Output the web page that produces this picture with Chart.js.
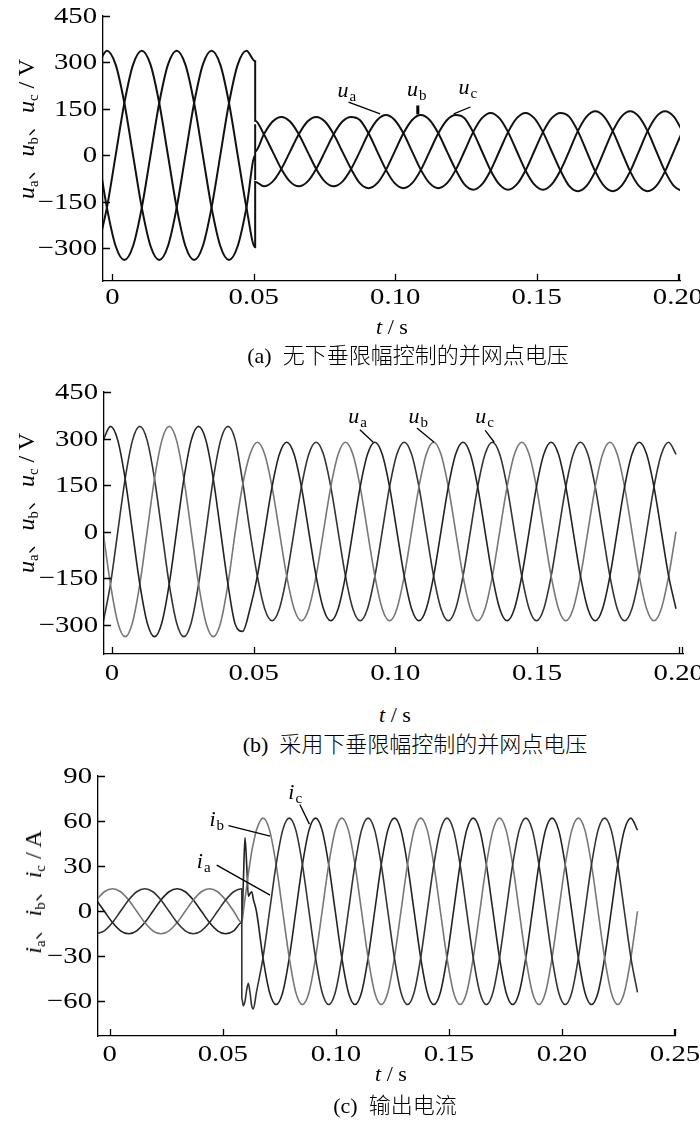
<!DOCTYPE html>
<html>
<head>
<meta charset="utf-8">
<script src="https://cdn.jsdelivr.net/npm/chart.js@4.4.1/dist/chart.umd.min.js"></script>
<style>
  html, body { margin: 0; padding: 0; background: #fff; }
  #page { position: relative; width: 700px; height: 1129px; overflow: hidden;
          font-family: "Liberation Serif", "Times New Roman", serif; color: #000; }
  canvas { position: absolute; left: 0; }
  .txt { position: absolute; white-space: nowrap; transform: translate(-50%, -50%);
         font-size: 22px; line-height: 1; }
  .ylab { transform: translate(-50%, -50%) rotate(-90deg); font-size: 24px; }
  .cn { font-family: "Noto Sans CJK SC", sans-serif; font-weight: 300; }
  sub { font-size: 62%; vertical-align: -0.28em; line-height: 0; }
</style>
</head>
<body>
<div id="page">
  <canvas id="chartA" width="700" height="320" style="top:0px"></canvas>
  <canvas id="chartB" width="700" height="320" style="top:376px"></canvas>
  <canvas id="chartC" width="700" height="320" style="top:760px"></canvas>

  <div class="txt ylab" style="left:25px; top:129px"><i>u</i><sub>a</sub><span class="cn">、</span><i>u</i><sub>b</sub><span class="cn">、</span><i>u</i><sub>c</sub> / V</div>
  <div class="txt" style="left:392px; top:327px"><i>t</i> / s</div>
  <div class="txt" style="left:408px; top:354px">(a)&nbsp; <span class="cn">无下垂限幅控制的并网点电压</span></div>

  <div class="txt ylab" style="left:25px; top:503px"><i>u</i><sub>a</sub><span class="cn">、</span><i>u</i><sub>b</sub><span class="cn">、</span><i>u</i><sub>c</sub> / V</div>
  <div class="txt" style="left:395px; top:715px"><i>t</i> / s</div>
  <div class="txt" style="left:415px; top:743px">(b)&nbsp; <span class="cn">采用下垂限幅控制的并网点电压</span></div>

  <div class="txt ylab" style="left:32px; top:892px"><i>i</i><sub>a</sub><span class="cn">、</span><i>i</i><sub>b</sub><span class="cn">、</span><i>i</i><sub>c</sub> / A</div>
  <div class="txt" style="left:391px; top:1074px"><i>t</i> / s</div>
  <div class="txt" style="left:395px; top:1104px">(c)&nbsp; <span class="cn">输出电流</span></div>
</div>

<script>
// tick values and labels
const xTicksAB = [0, 0.05, 0.10, 0.15, 0.20]
const xLabelsAB = ['0', '0.05', '0.10', '0.15', '0.20']
const xTicksC = [0, 0.05, 0.10, 0.15, 0.20, 0.25]
const xLabelsC = ['0', '0.05', '0.10', '0.15', '0.20', '0.25']
const yTicksU = [-300, -150, 0, 150, 300, 450]
const yLabelsU = ['−300', '−150', '0', '150', '300', '450']
const yTicksI = [-60, -30, 0, 30, 60, 90]
const yLabelsI = ['−60', '−30', '0', '30', '60', '90']

// (a) grid voltage, no droop limiting (s, V)
const tA = [-0.00500, -0.00192, 0.00117, 0.00425, 0.00733, 0.01042, 0.01350, 0.01658, 0.01967, 0.02275,
  0.02583, 0.02892, 0.03200, 0.03508, 0.03817, 0.04125, 0.04433, 0.04742, 0.05050, 0.05050, 0.05050, 0.05050,
  0.05358, 0.05667, 0.05975, 0.06283, 0.06592, 0.06900, 0.07208, 0.07517, 0.07825, 0.08133, 0.08442,
  0.08750, 0.09058, 0.09367, 0.09675, 0.09983, 0.10292, 0.10600, 0.10908, 0.11217, 0.11525, 0.11833, 0.12142,
  0.12450, 0.12758, 0.13067, 0.13375, 0.13683, 0.13992, 0.14300, 0.14608, 0.14917, 0.15225, 0.15533, 0.15842,
  0.16150, 0.16458, 0.16767, 0.17075, 0.17383, 0.17692, 0.18000, 0.18308, 0.18617, 0.18925, 0.19233, 0.19542,
  0.19850, 0.20158]
const uaA = [0, -169, -293, -338, -293, -169, 0, 169, 293, 338, 293, 169, 0, -169, -293, -338, -293, -169, 0,
  100, -80,
  12, 68, 109, 124, 109, 68, 12, -44, -85, -100, -85, -44,
  12, 71, 114, 130, 114, 71, 12, -47, -90, -106, -90, -47,
  13, 75, 120, 137, 120, 75, 13, -49, -94, -111, -94, -49,
  13, 78, 125, 142, 125, 78, 13, -52, -99, -116, -99, -52,
  13, 78]
const ubA = [293, 338, 293, 169, 0, -169, -293, -338, -293, -169, 0, 169, 293, 338, 293, 169, 0, -169, -297,
  -297, -85,
  -85, -100, -85, -44, 12, 68, 109, 124, 109, 68, 12, -44,
  -90, -106, -90, -47, 12, 71, 114, 130, 114, 71, 12, -47,
  -94, -111, -94, -49, 13, 75, 120, 137, 120, 75, 13, -49,
  -99, -116, -99, -52, 13, 78, 125, 142, 125, 78, 13, -52,
  -99, -116]
const ucA = [-293, -169, 0, 169, 293, 338, 293, 169, 0, -169, -293, -338, -293, -169, 0, 169, 293, 338, 304,
  112, 112,
  112, 68, 12, -44, -85, -100, -85, -44, 12, 68, 109, 124,
  114, 71, 12, -47, -90, -106, -90, -47, 12, 71, 114, 130,
  120, 75, 13, -49, -94, -111, -94, -49, 13, 75, 120, 137,
  125, 78, 13, -52, -99, -116, -99, -52, 13, 78, 125, 142,
  125, 78]

// (b) grid voltage with droop limiting (s, V)
const tB = [-0.00312, -0.00052, 0.00207, 0.00466, 0.00725, 0.00984, 0.01243, 0.01502, 0.01762, 0.02021,
  0.02280, 0.02539, 0.02798, 0.03057, 0.03317, 0.03576, 0.03835, 0.04094, 0.04353,
  0.04612, 0.04872, 0.05131, 0.05390, 0.05649, 0.05908, 0.06167, 0.06427, 0.06686, 0.06945, 0.07204,
  0.07463, 0.07722, 0.07982, 0.08241,
  0.08500, 0.08759, 0.09018, 0.09278, 0.09537, 0.09796, 0.10055, 0.10314, 0.10573, 0.10833, 0.11092, 0.11351,
  0.11610, 0.11869, 0.12128, 0.12388, 0.12647, 0.12906, 0.13165, 0.13424, 0.13683, 0.13943, 0.14202, 0.14461,
  0.14720, 0.14979, 0.15238, 0.15498, 0.15757, 0.16016, 0.16275, 0.16534, 0.16793, 0.17053, 0.17312, 0.17571,
  0.17830, 0.18089, 0.18348, 0.18608, 0.18867, 0.19126, 0.19385, 0.19644, 0.19903]
const uaB = [294, 339, 294, 170, 0, -170, -294, -339, -294, -170, 0, 170, 294, 339, 294, 170, 0, -170,
  -300, -322, -249, -144,
  0, 144, 249, 288, 249, 144, 0, -144, -249, -288, -249, -144,
  0, 144, 249, 288, 249, 144, 0, -144, -249, -288, -249, -144,
  0, 144, 249, 288, 249, 144, 0, -144, -249, -288, -249, -144,
  0, 144, 249, 288, 249, 144, 0, -144, -249, -288, -249, -144,
  0, 144, 249, 288, 249, 144, 0, -144, -249]
const ubB = [0, -170, -294, -339, -294, -170, 0, 170, 294, 339, 294, 170, 0, -170, -294, -339, -294, -170, 0,
  150, 249, 288,
  249, 144, 0, -144, -249, -288, -249, -144, 0, 144, 249, 288,
  249, 144, 0, -144, -249, -288, -249, -144, 0, 144, 249, 288,
  249, 144, 0, -144, -249, -288, -249, -144, 0, 144, 249, 288,
  249, 144, 0, -144, -249, -288, -249, -144, 0, 144, 249, 288,
  249, 144, 0, -144, -249, -288, -249, -144, 0]
const ucB = [-294, -170, 0, 170, 294, 339, 294, 170, 0, -170, -294, -339, -294, -170, 0, 170, 294, 339, 294,
  160, 0, -144,
  -249, -288, -249, -144, 0, 144, 249, 288, 249, 144, 0, -144,
  -249, -288, -249, -144, 0, 144, 249, 288, 249, 144, 0, -144,
  -249, -288, -249, -144, 0, 144, 249, 288, 249, 144, 0, -144,
  -249, -288, -249, -144, 0, 144, 249, 288, 249, 144, 0, -144,
  -249, -288, -249, -144, 0, 144, 249, 288, 249]

// (c) output current (s, A)
const tC = [-0.00595, -0.00238, 0.00120, 0.00477, 0.00835, 0.01192, 0.01550, 0.01908, 0.02265, 0.02622,
  0.02980, 0.03338, 0.03695, 0.04053, 0.04410, 0.04768, 0.05125, 0.05483, 0.05840,
  0.05840, 0.05910, 0.05980, 0.06060, 0.06130, 0.06210, 0.06280, 0.06350,
  0.06487, 0.06777,
  0.07068, 0.07359, 0.07649, 0.07940, 0.08230, 0.08521, 0.08812, 0.09102, 0.09393, 0.09684, 0.09974, 0.10264,
  0.10555, 0.10846, 0.11136, 0.11427, 0.11717, 0.12008, 0.12299, 0.12589, 0.12880, 0.13170, 0.13461, 0.13752,
  0.14042, 0.14333, 0.14623, 0.14914, 0.15205, 0.15495, 0.15786, 0.16076, 0.16367, 0.16657, 0.16948, 0.17239,
  0.17529, 0.17820, 0.18110, 0.18401, 0.18692, 0.18982, 0.19273, 0.19563, 0.19854, 0.20145, 0.20435, 0.20726,
  0.21016, 0.21307, 0.21597, 0.21888, 0.22179, 0.22469, 0.22760, 0.23050, 0.23341]
const iaC = [-15, -13, -7.5, 0, 7.5, 13, 15, 13, 7.5, 0, -7.5, -13, -15, -13, -7.5, 0, 7.5, 13, 15,
  -58, -63, -60, -52, -48, -55, -63, -65,
  -54, -31,
  0, 31, 54, 62, 54, 31, 0, -31, -54, -62, -54, -31,
  0, 31, 54, 62, 54, 31, 0, -31, -54, -62, -54, -31,
  0, 31, 54, 62, 54, 31, 0, -31, -54, -62, -54, -31,
  0, 31, 54, 62, 54, 31, 0, -31, -54, -62, -54, -31,
  0, 31, 54, 62, 54, 31, 0, -31, -54]
const ibC = [7.5, 13, 15, 13, 7.5, 0, -7.5, -13, -15, -13, -7.5, 0, 7.5, 13, 15, 13, 7.5, 0, -7.5,
  -7.5, 0, 8, 17, 25, 33, 40, 45,
  54, 62,
  54, 31, 0, -31, -54, -62, -54, -31, 0, 31, 54, 62,
  54, 31, 0, -31, -54, -62, -54, -31, 0, 31, 54, 62,
  54, 31, 0, -31, -54, -62, -54, -31, 0, 31, 54, 62,
  54, 31, 0, -31, -54, -62, -54, -31, 0, 31, 54, 62,
  54, 31, 0, -31, -54, -62, -54, -31, 0]
const icC = [7.5, 0, -7.5, -13, -15, -13, -7.5, 0, 7.5, 13, 15, 13, 7.5, 0, -7.5, -13, -15, -13, -7.5,
  -7.5, 20, 49, 30, 10, 12, 13, 8,
  0, -31,
  -54, -62, -54, -31, 0, 31, 54, 62, 54, 31, 0, -31,
  -54, -62, -54, -31, 0, 31, 54, 62, 54, 31, 0, -31,
  -54, -62, -54, -31, 0, 31, 54, 62, 54, 31, 0, -31,
  -54, -62, -54, -31, 0, 31, 54, 62, 54, 31, 0, -31,
  -54, -62, -54, -31, 0, 31, 54, 62, 54]

// phase name tags with leader lines, in data units
const notesA = [
  { s: 'a', tx: 0.0796, ty: 187, x1: 0.0835, y1: 172, x2: 0.0947, y2: 134 },
  { s: 'b', tx: 0.1042, ty: 193, x1: 0.1080, y1: 161, x2: 0.1080, y2: 132, w: 3 },
  { s: 'c', tx: 0.1224, ty: 199, x1: 0.1266, y1: 156, x2: 0.1207, y2: 134 }
]
const notesB = [
  { s: 'a', tx: 0.0834, ty: 350, x1: 0.0875, y1: 328, x2: 0.0922, y2: 288 },
  { s: 'b', tx: 0.1046, ty: 350, x1: 0.1076, y1: 334, x2: 0.1137, y2: 288 },
  { s: 'c', tx: 0.1282, ty: 350, x1: 0.1317, y1: 326, x2: 0.1349, y2: 288 }
]
const notesC = [
  { s: 'c', tx: 0.0790, ty: 75, x1: 0.0841, y1: 71, x2: 0.0883, y2: 58 },
  { s: 'b', tx: 0.0441, ty: 57, x1: 0.0525, y1: 57, x2: 0.0709, y2: 50 },
  { s: 'a', tx: 0.0385, ty: 28.5, x1: 0.0473, y1: 30.7, x2: 0.0709, y2: 10.7 }
]

const serif = '"Liberation Serif", "Times New Roman", serif'

// inward tick marks and the (wide) tick labels
function axisPlugin(o) {
  return {
    id: 'axisMarks',
    afterDraw(chart) {
      const { ctx, chartArea: a, scales: { x, y } } = chart
      ctx.save()
      ctx.strokeStyle = '#000'
      ctx.lineWidth = 1.3
      ctx.beginPath()
      x.ticks.forEach(t => {
        const p = Math.round(x.getPixelForValue(t.value)) + 0.5
        ctx.moveTo(p, a.bottom)
        ctx.lineTo(p, a.bottom - 7)
      })
      ctx.moveTo(a.right - 0.5, a.bottom)
      ctx.lineTo(a.right - 0.5, a.bottom - 7)
      y.ticks.forEach(t => {
        const p = Math.round(y.getPixelForValue(t.value)) + 0.5
        ctx.moveTo(a.left, p)
        ctx.lineTo(a.left + 7, p)
      })
      ctx.stroke()

      ctx.fillStyle = '#000'
      ctx.font = '23px ' + serif
      ctx.textBaseline = 'middle'
      x.ticks.forEach((t, i) => {
        ctx.save()
        ctx.translate(x.getPixelForValue(t.value), a.bottom + o.xGap)
        ctx.scale(1.25, 1)
        ctx.textAlign = 'center'
        ctx.fillText(o.xLabels[i], 0, 0)
        ctx.restore()
      })
      y.ticks.forEach((t, i) => {
        ctx.save()
        ctx.translate(a.left - 6, y.getPixelForValue(t.value) + 1)
        ctx.scale(1.25, 1)
        ctx.textAlign = 'right'
        ctx.fillText(o.yLabels[i], 0, 0)
        ctx.restore()
      })
      ctx.restore()
    }
  }
}

function notesPlugin(notes, letter) {
  return {
    id: 'notes',
    afterDatasetsDraw(chart) {
      const { ctx, scales: { x, y } } = chart
      ctx.save()
      ctx.fillStyle = '#000'
      ctx.strokeStyle = '#000'
      notes.forEach(n => {
        const px = x.getPixelForValue(n.tx)
        const py = y.getPixelForValue(n.ty)
        ctx.font = 'italic 22px ' + serif
        ctx.textBaseline = 'alphabetic'
        ctx.fillText(letter, px, py)
        const w = ctx.measureText(letter).width
        ctx.font = '15px ' + serif
        ctx.fillText(n.s, px + w + 1, py + 4)
        ctx.lineWidth = n.w || 1.3
        ctx.beginPath()
        ctx.moveTo(x.getPixelForValue(n.x1), y.getPixelForValue(n.y1))
        ctx.lineTo(x.getPixelForValue(n.x2), y.getPixelForValue(n.y2))
        ctx.stroke()
      })
      ctx.restore()
    }
  }
}

function series(t, v, color, width) {
  return {
    data: t.map((x, i) => ({ x: x, y: v[i] })),
    borderColor: color,
    borderWidth: width,
    pointRadius: 0,
    fill: false,
    cubicInterpolationMode: 'monotone'
  }
}

function makeChart(id, o) {
  return new Chart(document.getElementById(id), {
    type: 'line',
    data: { datasets: o.datasets },
    options: {
      responsive: false,
      animation: false,
      layout: { autoPadding: false, padding: { top: 16, right: o.right, left: 0, bottom: 0 } },
      plugins: { legend: { display: false }, tooltip: { enabled: false } },
      scales: {
        x: {
          type: 'linear', min: o.xMin, max: o.xMax,
          grid: { display: false, drawTicks: false },
          border: { display: true, color: '#000', width: 1.3 },
          afterBuildTicks: s => { s.ticks = o.xTicks.map(v => ({ value: v })) },
          afterFit: s => { s.height = o.xH },
          ticks: { display: false, callback: (v, i) => o.xLabels[i] }
        },
        y: {
          type: 'linear', min: o.yMin, max: o.yMax,
          grid: { display: false, drawTicks: false },
          border: { display: true, color: '#000', width: 1.3 },
          afterBuildTicks: s => { s.ticks = o.yTicks.map(v => ({ value: v })) },
          afterFit: s => { s.width = o.yW },
          ticks: { display: false, callback: (v, i) => o.yLabels[i] }
        }
      }
    },
    plugins: [axisPlugin(o), notesPlugin(o.notes, o.letter)]
  })
}

makeChart('chartA', {
  datasets: [series(tA, uaA, '#111', 2), series(tA, ubA, '#111', 2), series(tA, ucA, '#111', 2)],
  xMin: -0.0033, xMax: 0.2007, yMin: -406, yMax: 450,
  xTicks: xTicksAB, xLabels: xLabelsAB, yTicks: yTicksU, yLabels: yLabelsU,
  yW: 103, xH: 39, right: 20, xGap: 17, notes: notesA, letter: 'u'
})

makeChart('chartB', {
  datasets: [series(tB, uaB, '#222', 1.6), series(tB, ubB, '#777', 1.6), series(tB, ucB, '#333', 1.6)],
  xMin: -0.0028, xMax: 0.2015, yMin: -395, yMax: 450,
  xTicks: xTicksAB, xLabels: xLabelsAB, yTicks: yTicksU, yLabels: yLabelsU,
  yW: 104, xH: 42, right: 17, xGap: 20, notes: notesB, letter: 'u'
})

makeChart('chartC', {
  datasets: [series(tC, iaC, '#333', 1.6), series(tC, ibC, '#777', 1.6), series(tC, icC, '#222', 1.6)],
  xMin: -0.0052, xMax: 0.25, yMin: -83, yMax: 90,
  xTicks: xTicksC, xLabels: xLabelsC, yTicks: yTicksI, yLabels: yLabelsI,
  yW: 98, xH: 44, right: 25, xGap: 19, notes: notesC, letter: 'i'
})
</script>
</body>
</html>
